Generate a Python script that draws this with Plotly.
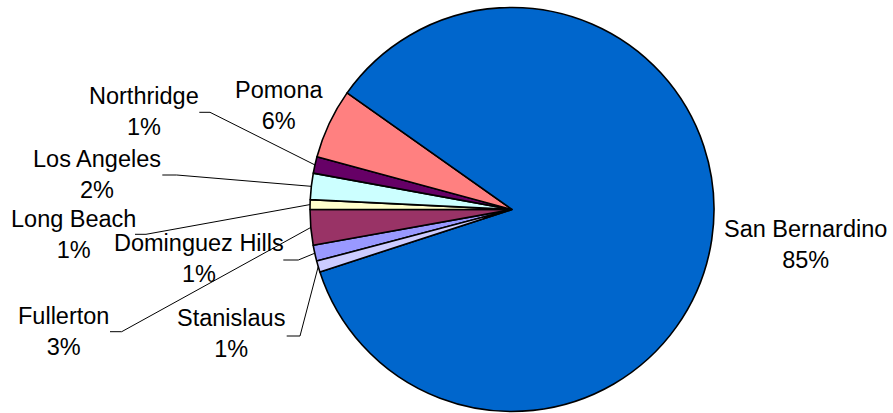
import math
import plotly.graph_objects as go

# ---- data ----
campuses = ["Dominguez Hills", "Fullerton", "Long Beach", "Los Angeles",
            "Northridge", "Pomona", "San Bernardino", "Stanislaus"]
shares = [1.28, 2.83, 0.78, 2.10, 1.32, 5.60, 85.20, 0.89]
colors = ["#9999FF", "#993366", "#FFFFCC", "#CCFFFF",
          "#660066", "#FF8080", "#0066CC", "#CCCCFF"]

# ---- layout parameters (pixels) ----
W, H = 893, 413
CX, CY, R = 512.0, 209.5, 202.0
ROTATION = 255.2  # clockwise from 12 o'clock where the first slice starts
FONT = dict(family="Arial, 'Liberation Sans', sans-serif", size=23.5, color="#000000")

# label placement: (text center x, first baseline y, leader-line knee points)
label_pos = {
    "Dominguez Hills": (199.2, 251.7, [(283.3, 260.0), (298.3, 260.0)]),
    "Fullerton": (63.2, 324.3, [(110.0, 331.7), (121.7, 331.7)]),
    "Long Beach": (73.3, 227.3, [(135.0, 234.3), (146.0, 234.3)]),
    "Los Angeles": (97.0, 167.3, [(162.3, 175.0), (176.7, 175.0)]),
    "Northridge": (144.3, 104.0, [(199.3, 112.3), (210.0, 112.3)]),
    "Pomona": (279.2, 98.3, None),
    "San Bernardino": (805.3, 237.3, None),
    "Stanislaus": (230.5, 326.7, [(286.7, 336.0), (300.0, 336.0)]),
}

def px(x):
    return x / W

def py(y):
    return 1 - y / H

fig = go.Figure()
fig.add_trace(go.Pie(
    labels=campuses, values=shares, sort=False, direction="clockwise",
    rotation=ROTATION, textinfo="none", hoverinfo="label+percent",
    marker=dict(colors=colors, line=dict(color="#000000", width=1.6)),
    domain=dict(x=[px(CX - R), px(CX + R)], y=[py(CY + R), py(CY - R)]),
))

total = sum(shares)
cum = 0.0
annotations = []
shapes = []
for name, v in zip(campuses, shares):
    mid = math.radians(ROTATION + 360.0 * (cum + v / 2) / total)
    cum += v
    ex = CX + R * math.sin(mid)
    ey = CY - R * math.cos(mid)
    tx, b1, knee = label_pos[name]
    pct = round(v / total * 100)
    annotations.append(dict(
        x=px(tx), y=py(b1 - 23.3), xref="paper", yref="paper",
        xanchor="center", yanchor="top", showarrow=False,
        text=f"{name}<br>{pct}%", font=FONT, align="center",
    ))
    if knee:
        pts = knee + [(ex, ey)]
        path = "M " + " L ".join(f"{px(a)},{py(b)}" for a, b in pts)
        shapes.append(dict(type="path", xref="paper", yref="paper", path=path,
                           line=dict(color="#000000", width=1)))

fig.update_layout(
    width=W, height=H, margin=dict(l=0, r=0, t=0, b=0),
    paper_bgcolor="#FFFFFF", plot_bgcolor="#FFFFFF", showlegend=False,
    annotations=annotations, shapes=shapes,
)
fig.write_html("out.html", config={"displayModeBar": False},
               post_script="document.body.style.margin='0';document.body.style.overflow='hidden';")
